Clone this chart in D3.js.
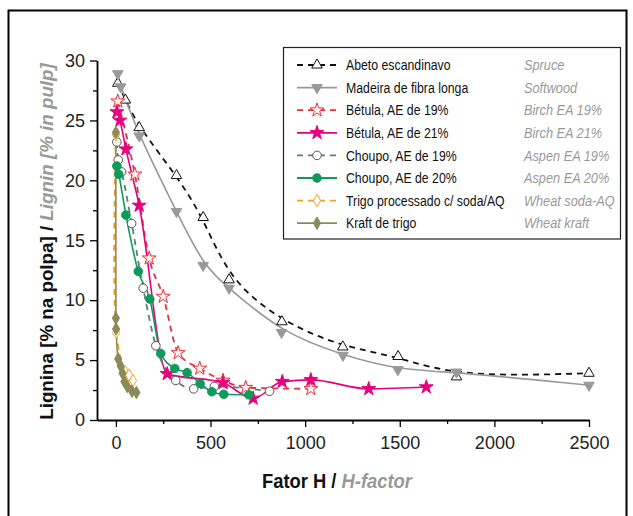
<!DOCTYPE html>
<html>
<head>
<meta charset="utf-8">
<script src="https://cdn.jsdelivr.net/npm/d3@7"></script>
<style>
  body { margin: 0; background: #fff; }
  text { font-family: "Liberation Sans", Arial, sans-serif; }
</style>
</head>
<body>
<svg id="chart"></svg>
<script>
// H-factor vs lignin content, [H-factor, lignin %]
const spruce    = [[10, 28.1], [50, 26.7], [123, 24.4], [320, 20.4], [461, 16.9], [598, 11.7], [877, 8.2], [1199, 6.1], [1491, 5.3], [1800, 3.6], [2500, 3.9]];
const softwood  = [[10, 28.9], [25, 27.8], [123, 23.7], [320, 17.4], [461, 12.9], [598, 11.0], [875, 7.3], [1200, 5.4], [1490, 4.2], [1800, 4.0], [2500, 2.9]];
const birch19   = [[10, 26.6], [100, 20.5], [176, 13.5], [250, 10.3], [329, 5.6], [443, 4.3], [566, 3.3], [686, 2.7], [1030, 2.6]];
const birch21   = [[5, 25.7], [21, 25.0], [53, 22.6], [123, 17.9], [271, 3.85], [566, 3.1], [725, 1.8], [879, 3.2], [1030, 3.35], [1336, 2.6], [1640, 2.75]];
const aspen19   = [[5, 23.2], [12, 21.7], [30, 20.7], [83, 16.4], [144, 11.0], [211, 6.2], [316, 3.3], [411, 2.6], [520, 2.8], [812, 2.4]];
const aspen20   = [[5, 21.2], [15, 20.5], [53, 17.1], [118, 12.4], [179, 10.1], [237, 5.55], [311, 4.3], [376, 3.95], [445, 3.05], [507, 2.36], [570, 2.15], [703, 2.1]];
const wheatSoda = [[0, 23.8], [2, 7.3], [50, 4.0], [70, 3.75], [90, 3.3]];
const wheatKraft = [[0, 24.0], [0, 8.5], [1, 7.6], [12, 5.1], [25, 4.5], [35, 3.9], [45, 3.2], [60, 2.8], [85, 2.4], [108, 2.3]];

const labelsPt = ["Abeto escandinavo", "Madeira de fibra longa", "Bétula, AE de 19%", "Bétula, AE de 21%",
                  "Choupo, AE de 19%", "Choupo, AE de 20%", "Trigo processado c/ soda/AQ", "Kraft de trigo"];
const labelsEn = ["Spruce", "Softwood", "Birch EA 19%", "Birch EA 21%", "Aspen EA 19%", "Aspen EA 20%", "Wheat soda-AQ", "Wheat kraft"];

const yTicks = [0, 5, 10, 15, 20, 25, 30];
const yMinor = [2.5, 7.5, 12.5, 17.5, 22.5, 27.5];
const xTicks = [0, 500, 1000, 1500, 2000, 2500];
const xMinor = [250, 750, 1250, 1750, 2250];

const width = 633, height = 516;
const svg = d3.select("#chart").attr("width", width).attr("height", height);

// outer frame
svg.append("rect").attr("x", 8.5).attr("y", 10.5).attr("width", 618).attr("height", 520)
  .attr("fill", "none").attr("stroke", "#000").attr("stroke-width", 2);

const x = d3.scaleLinear().domain([-100, 2500]).range([97, 589]);
const y = d3.scaleLinear().domain([0, 30]).range([420, 60.5]);

// wood curves are smoothed fits, the others go through the points
const fit = d3.curveBasis, smooth = d3.curveMonotoneX, spline = d3.curveCatmullRom.alpha(0.5);

// series styles
const series = [
  { data: spruce,     color: "#111",    dash: "6,5", curve: fit,    symbol: d3.symbolTriangle, rot: 0,   size: 48, fill: "#fff",    mstroke: "#111" },
  { data: softwood,   color: "#999",    dash: null,  curve: fit,    symbol: d3.symbolTriangle, rot: 180, size: 48, fill: "#999",    mstroke: "#999" },
  { data: birch19,    color: "#e8303a", dash: "6,5", curve: smooth, symbol: d3.symbolStar,     rot: 0,   size: 60, fill: "#fff3f3", mstroke: "#e8303a" },
  { data: birch21,    color: "#e6007e", dash: null,  curve: smooth, symbol: d3.symbolStar,     rot: 0,   size: 60, fill: "#e6007e", mstroke: "#e6007e" },
  { data: aspen19,    color: "#5d7f74", dash: "6,5", curve: smooth, symbol: d3.symbolCircle,   rot: 0,   size: 58, fill: "#fff",    mstroke: "#555" },
  { data: aspen20,    color: "#0e9a5a", dash: null,  curve: smooth, symbol: d3.symbolCircle,   rot: 0,   size: 58, fill: "#0e9a5a", mstroke: "#0e9a5a" },
  { data: wheatSoda,  color: "#f0a020", dash: "6,5", curve: spline, symbol: d3.symbolDiamond,  rot: 0,   size: 45, fill: "#fff",    mstroke: "#f0a020" },
  { data: wheatKraft, color: "#8c8a58", dash: null,  curve: spline, symbol: d3.symbolDiamond,  rot: 0,   size: 45, fill: "#8c8a58", mstroke: "#8c8a58" }
];

// axes
svg.append("g").attr("transform", "translate(97,0)")
  .call(d3.axisLeft(y).tickValues(yTicks).tickSize(7).tickSizeOuter(0).tickPadding(5));
svg.append("g").attr("transform", "translate(97,0)")
  .call(d3.axisLeft(y).tickValues(yMinor).tickSize(4).tickFormat("")).select(".domain").remove();
svg.append("g").attr("transform", "translate(0,420)")
  .call(d3.axisBottom(x).tickValues(xTicks).tickFormat(d3.format("d")).tickSize(7).tickSizeOuter(0).tickPadding(9));
svg.append("g").attr("transform", "translate(0,420)")
  .call(d3.axisBottom(x).tickValues(xMinor).tickSize(4).tickFormat("")).select(".domain").remove();

svg.selectAll(".domain").attr("stroke-width", 1.8);
svg.selectAll(".tick line").attr("stroke-width", 1.3);
svg.selectAll(".tick text").style("font-family", "'Liberation Sans', Arial, sans-serif")
  .attr("font-size", 18).attr("fill", "#222");

// lines and markers
series.forEach(s => {
  const line = d3.line().x(d => x(d[0])).y(d => y(d[1])).curve(s.curve);
  svg.append("path").datum(s.data).attr("d", line)
    .attr("fill", "none").attr("stroke", s.color).attr("stroke-width", s.dash ? 1.8 : 1.6)
    .attr("stroke-dasharray", s.dash);
});
series.forEach(s => {
  svg.append("g").selectAll("path").data(s.data).enter().append("path")
    .attr("d", d3.symbol().type(s.symbol).size(s.size))
    .attr("transform", d => `translate(${x(d[0])},${y(d[1])}) rotate(${s.rot})`)
    .attr("fill", s.fill).attr("stroke", s.mstroke).attr("stroke-width", 1);
});

// legend
svg.append("rect").attr("x", 283.5).attr("y", 47.5).attr("width", 337).attr("height", 191.5)
  .attr("fill", "#fff").attr("stroke", "#222").attr("stroke-width", 1.2);

const legend = svg.append("g").selectAll("g").data(series).enter().append("g")
  .attr("transform", (d, i) => `translate(0,${65 + i * 22.6})`);
legend.append("line").attr("x1", 297).attr("x2", 337)
  .attr("stroke", d => d.color).attr("stroke-width", 1.8).attr("stroke-dasharray", d => d.dash);
legend.append("path")
  .attr("d", d => d3.symbol().type(d.symbol).size(d.size)())
  .attr("transform", d => `translate(317,0) rotate(${d.rot})`)
  .attr("fill", d => d.fill).attr("stroke", d => d.mstroke);
// condensed look: squeeze horizontally
legend.append("text").attr("transform", "translate(346,0) scale(0.82,1)")
  .attr("dy", "0.35em").attr("font-size", 15).attr("fill", "#111")
  .text((d, i) => labelsPt[i]);
legend.append("text").attr("transform", "translate(524,0) scale(0.85,1)")
  .attr("dy", "0.35em").attr("font-size", 15)
  .attr("font-style", "italic").attr("fill", "#999")
  .text((d, i) => labelsEn[i]);

// axis titles
const yt = svg.append("text").attr("text-anchor", "middle").attr("font-size", 19).attr("font-weight", "bold");
yt.append("tspan").attr("fill", "#111").text("Lignina [% na polpa] / ");
yt.append("tspan").attr("fill", "#999").attr("font-style", "italic").text("Lignin [% in pulp]");
const ky = 357 / yt.node().getComputedTextLength();
yt.attr("transform", `translate(53,241.5) rotate(-90) scale(${ky},1)`);

const xt = svg.append("text").attr("font-size", 20).attr("font-weight", "bold");
xt.append("tspan").attr("fill", "#111").text("Fator H / ");
xt.append("tspan").attr("fill", "#999").attr("font-style", "italic").text("H-factor");
const kx = 150 / xt.node().getComputedTextLength();
xt.attr("transform", `translate(262,488) scale(${kx},1)`);
</script>
</body>
</html>
